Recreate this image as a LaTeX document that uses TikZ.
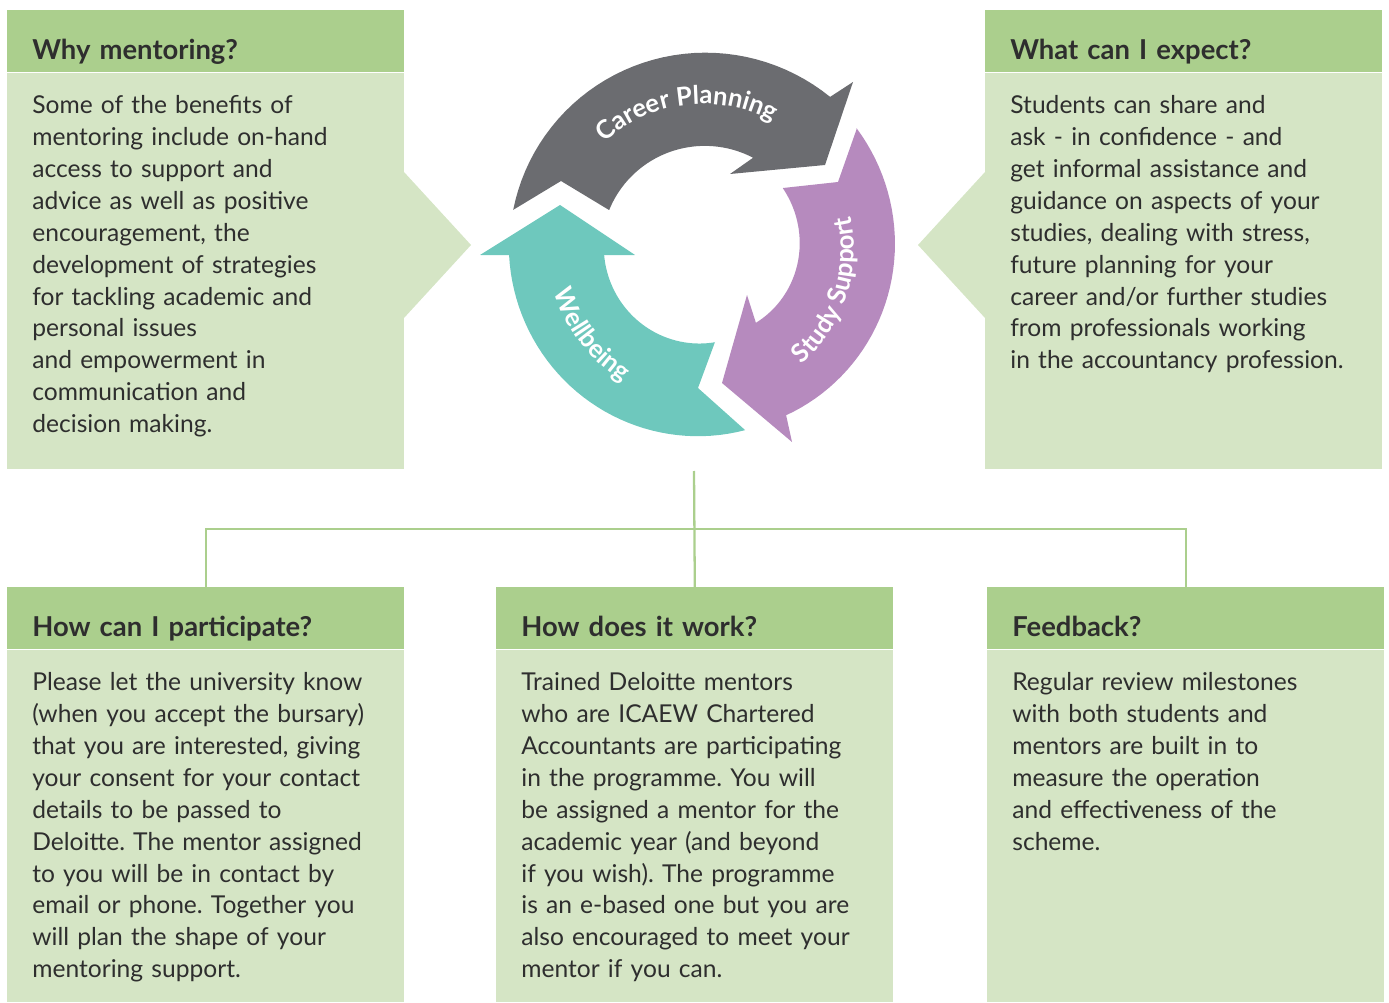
\documentclass[tikz,border=0pt]{standalone}
\usepackage{fontspec}
\setmainfont{Lato}
\usetikzlibrary{decorations.text}
\frenchspacing

\definecolor{headgreen}{HTML}{ABCF8D}
\definecolor{bodygreen}{HTML}{D5E5C5}
\definecolor{cyclegray}{HTML}{6B6C70}
\definecolor{cyclepurple}{HTML}{B68ABE}
\definecolor{cycleteal}{HTML}{6EC8BD}
\definecolor{textgray}{HTML}{2E2E2E}

\newcommand\bodyfont{\fontsize{14}{18.14}\selectfont}
\newcommand\headfont{\fontsize{15.6}{18}\selectfont\bfseries}
\newcommand\cyclelabel{\fontsize{14.6}{17}\selectfont\bfseries}
% edge of a band round the cycle centre, radius going from #3 to #4
\newcommand\spiral[4]{-- plot[domain=#1:#2,samples=40,variable=\t]
	({703+(#3+(#4-(#3))*(\t-(#1))/((#2)-(#1)))*cos(\t)},
	{-250+(#3+(#4-(#3))*(\t-(#1))/((#2)-(#1)))*sin(\t)})}

\begin{document}
\begin{tikzpicture}[x=0.02cm,y=0.02cm,
	head/.style={fill=headgreen, anchor=north west, minimum width=7.94cm, minimum height=1.24cm,
		text width=6.94cm, inner xsep=0.5cm, text height=20.4pt, text depth=0pt,
		font=\headfont, text=textgray},
	body/.style={fill=bodygreen, anchor=north west, minimum width=7.94cm, text width=6.94cm,
		inner xsep=0.5cm, inner ysep=0pt, align=left, text height=23.2pt,
		font=\bodyfont, text=textgray},
	link/.style={draw=headgreen, line width=1.3pt},
	cycletext/.style={decorate, decoration={text along path, text align=center, text color=white,
		text={|\cyclelabel|#1}}}]
	\useasboundingbox (0,0) rectangle (1389,-1003);
	%% ========================================================
	\node[head] (whyhead) at (7,-10) {Why mentoring?};
	\node[body, text depth=202.4pt] (whybody) at (whyhead.south west) {Some of the benefits of\\
		mentoring include on-hand\\ access to support and\\ advice as well as positive\\
		encouragement, the\\ development of strategies\\ for tackling academic and\\
		personal issues\\ and empowerment in\\ communication and\\ decision making.};
	\fill[bodygreen] (404,-172) -- (471,-245) -- (404,-318) -- cycle;

	\node[head] (expecthead) at (985,-10) {What can I expect?};
	\node[body, text depth=202.4pt] (expectbody) at (expecthead.south west) {Students can share and\\
		ask - in confidence - and\\ get informal assistance and\\ guidance on aspects of your\\
		studies, dealing with stress,\\ future planning for your\\ career and/or further studies\\
		from professionals working\\ in the accountancy profession.};
	\fill[bodygreen] (985,-172) -- (918,-245) -- (985,-318) -- cycle;
	%% ========================================================
	\coordinate (cyc) at (703,-250);
	\fill[cyclegray] (513,-210) -- (561,-181) -- (609,-210) \spiral{156.9}{61.5}{102}{105}
		-- (730,-174) -- (825,-165) -- (853,-82) \spiral{50.3}{168.1}{199}{194} -- cycle;
	\fill[cyclepurple] (857,-128) -- (838,-182) -- (783,-188) \spiral{37.8}{-54}{101}{90}
		-- (747,-295) -- (722,-383) -- (792,-442) \spiral{-63.3}{38.4}{185}{196} -- cycle;
	\fill[cycleteal] (745,-430) -- (698,-388) -- (715,-342) \spiral{277.4}{183}{93}{99}
		-- (635,-255) -- (560,-205) -- (480,-255) \spiral{181.5}{283}{194}{185} -- cycle;

	\path[cycletext=Career Planning] ([shift={(150:146)}]cyc) arc[start angle=150, end angle=44, radius=146];
	\path[cycletext=Study Support] ([shift={(-72:151)}]cyc) arc[start angle=-72, end angle=36, radius=151];
	\path[cycletext=Wellbeing] ([shift={(180:154)}]cyc) arc[start angle=180, end angle=254, radius=154];
	%% ========================================================
	\node[head] (joinhead) at (7,-587) {How can I participate?};
	\node[body, text depth=176.9pt] (joinbody) at (joinhead.south west) {Please let the university know\\
		(when you accept the bursary)\\ that you are interested, giving\\ your consent for your contact\\
		details to be passed to\\ Deloitte. The mentor assigned\\ to you will be in contact by\\
		email or phone. Together you\\ will plan the shape of your\\ mentoring support.};

	\node[head] (workhead) at (496,-587) {How does it work?};
	\node[body, text depth=176.9pt] (workbody) at (workhead.south west) {Trained Deloitte mentors\\
		who are ICAEW Chartered\\ Accountants are participating\\ in the programme. You will\\
		be assigned a mentor for the\\ academic year (and beyond\\ if you wish). The programme\\
		is an e-based one but you are\\ also encouraged to meet your\\ mentor if you can.};

	\node[head] (feedhead) at (987,-587) {Feedback?};
	\node[body, text depth=176.9pt] (feedbody) at (feedhead.south west) {Regular review milestones\\
		with both students and\\ mentors are built in to\\ measure the operation\\
		and effectiveness of the\\ scheme.};
	%% ========================================================
	\coordinate (hub) at (694,-471);
	\coordinate (split) at (694,-529);
	\draw[link] (hub) -- (workhead.north);
	\draw[link] (joinhead.north) |- (split) -| (feedhead.north);
\end{tikzpicture}
\end{document}
